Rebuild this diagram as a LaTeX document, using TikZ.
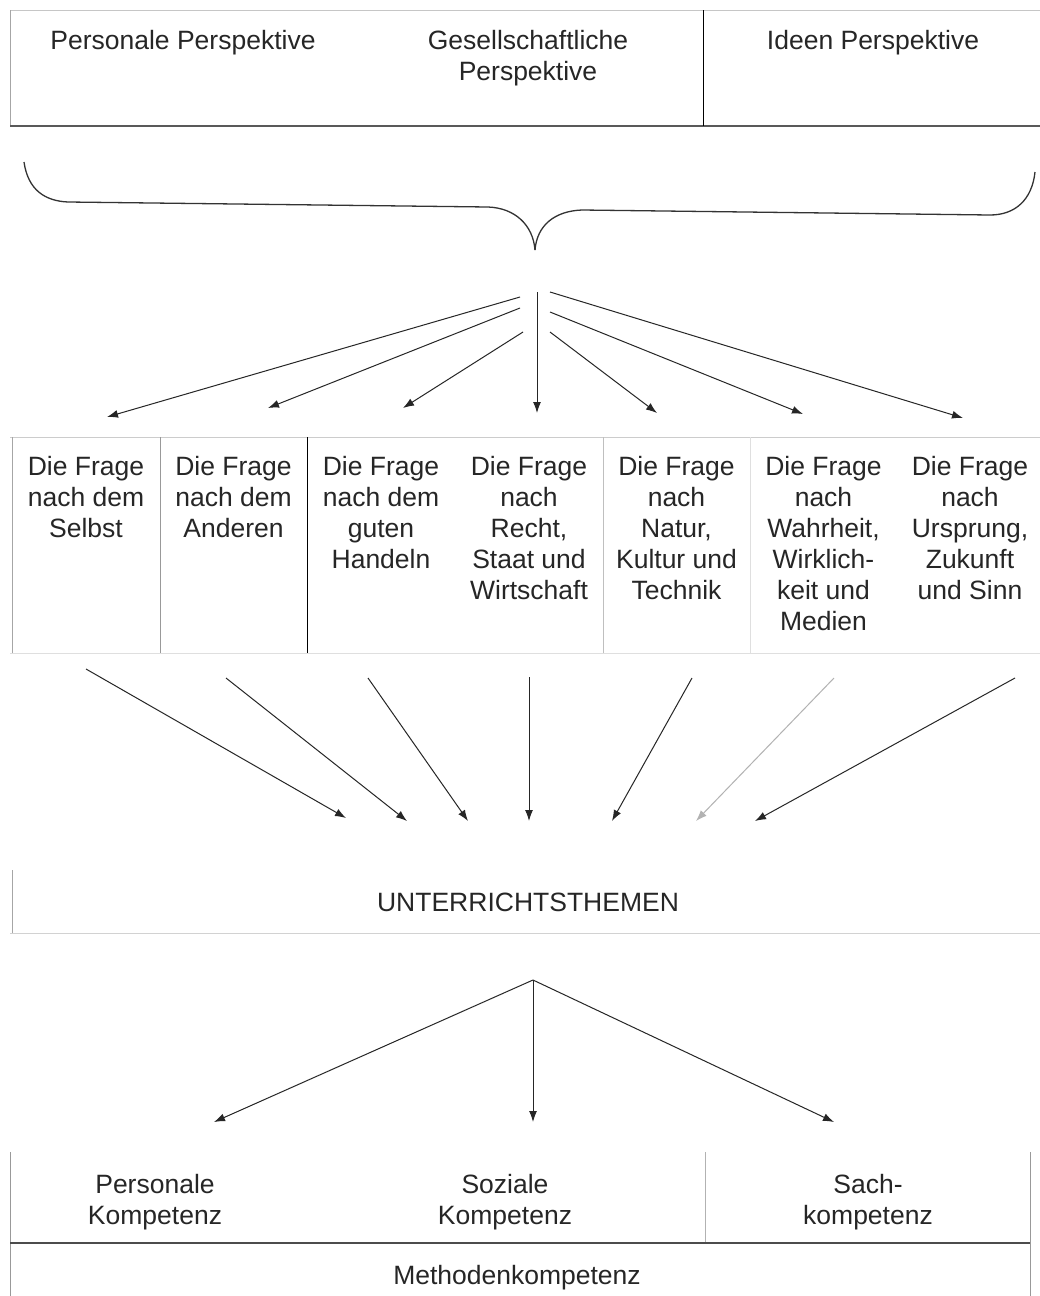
\documentclass[tikz,border=0pt]{standalone}
\usepackage{fontspec}
\setmainfont{Liberation Sans}
\usetikzlibrary{arrows.meta}
\begin{document}
\begin{tikzpicture}[x=1pt,y=-1pt,
  txt/.style={font=\fontsize{26.5}{31}\selectfont, align=center, inner sep=0pt, anchor=north, text=black!85},
  arr/.style={line width=1pt, draw=black!85, -{Latex[length=11pt,width=8pt]}},
  frame/.style={line width=1pt}]
\useasboundingbox[fill=white] (0,0) rectangle (1040,1296);

% ---------- top box ----------
\draw[frame, gray!45] (10,10) -- (1040,10);
\draw[frame, gray!70] (10,10) -- (10,126);
\draw[line width=2pt, black!65] (10,126) -- (1040,126);
\draw[frame, black] (703,10) -- (703,126);
\node[txt] (pp) at (183,27.3) {\strut Personale Perspektive};
\node[txt] (gp) at (528,27.3) {\strut Gesellschaftliche\\Perspektive};
\node[txt] (ip) at (873,27.3) {\strut Ideen Perspektive};

% ---------- brace ----------
\draw[line width=1.3pt, black!80] (24,162) .. controls (28,190) and (45,201) .. (68,202) -- (488,207) .. controls (515,208) and (533,225) .. (535,250);
\draw[line width=1.3pt, black!80] (535,250) .. controls (537,225) and (555,211) .. (582,210) -- (990,215) .. controls (1015,215) and (1032,200) .. (1035,172);

% ---------- arrows to questions ----------
\coordinate (s1) at (520,297);
\coordinate (s2) at (520,308);
\coordinate (s3) at (523,332);
\coordinate (s4) at (537,292);
\coordinate (s5) at (550,332);
\coordinate (s6) at (550,312);
\coordinate (s7) at (550,292);
\coordinate (t1) at (107,417);
\coordinate (t2) at (268,408);
\coordinate (t3) at (403,408);
\coordinate (t4) at (537,413);
\coordinate (t5) at (657,413);
\coordinate (t6) at (803,414);
\coordinate (t7) at (963,418);
\foreach \i in {1,...,7} \draw[arr] (s\i) -- (t\i);

% ---------- question columns ----------
\draw[frame, gray!40] (10,437) -- (1040,437);
\draw[frame, gray!25] (10,653) -- (1040,653);
\draw[frame, gray!70] (12,437) -- (12,653);
\draw[frame, gray!80] (160,437) -- (160,653);
\draw[frame, black] (307,437) -- (307,653);
\draw[frame, gray!50] (603,437) -- (603,653);
\draw[frame, gray!25] (750,437) -- (750,653);

\node[txt] (q1) at (86,453.3) {\strut Die Frage\\nach dem\\Selbst};
\node[txt] (q2) at (233.5,453.3) {\strut Die Frage\\nach dem\\Anderen};
\node[txt] (q3) at (381,453.3) {\strut Die Frage\\nach dem\\guten\\Handeln};
\node[txt] (q4) at (529,453.3) {\strut Die Frage\\nach\\Recht,\\Staat und\\Wirtschaft};
\node[txt] (q5) at (676.5,453.3) {\strut Die Frage\\nach\\Natur,\\Kultur und\\Technik};
\node[txt] (q6) at (823.5,453.3) {\strut Die Frage\\nach\\Wahrheit,\\Wirklich-\\keit und\\Medien};
\node[txt] (q7) at (970,453.3) {\strut Die Frage\\nach\\Ursprung,\\Zukunft\\und Sinn};

% ---------- arrows to topics ----------
\coordinate (u1) at (86,669);
\coordinate (u2) at (226,678);
\coordinate (u3) at (368,678);
\coordinate (u4) at (529,677);
\coordinate (u5) at (692,678);
\coordinate (u6) at (834,678);
\coordinate (u7) at (1015,678);
\coordinate (v1) at (346,818);
\coordinate (v2) at (407,821);
\coordinate (v3) at (468,821);
\coordinate (v4) at (529,821);
\coordinate (v5) at (612,821);
\coordinate (v6) at (696,821);
\coordinate (v7) at (755,821);
\foreach \i in {1,2,3,4,5,7} \draw[arr] (u\i) -- (v\i);
\draw[arr, draw=gray!60] (u6) -- (v6);

% ---------- topics ----------
\draw[frame, gray!70] (12,870) -- (12,933);
\draw[frame, gray!35] (10,933) -- (1040,933);
\node[txt] (ut) at (528,889.3) {\strut UNTERRICHTSTHEMEN};

% ---------- arrows to competences ----------
\coordinate (c0) at (533,980);
\coordinate (c1) at (214,1122);
\coordinate (c2) at (533,1122);
\coordinate (c3) at (834,1122);
\foreach \i in {1,2,3} \draw[arr] (c0) -- (c\i);

% ---------- competences ----------
\draw[frame, gray!80] (10,1152) -- (10,1296);
\draw[frame, gray!80] (1030,1152) -- (1030,1296);
\draw[frame, gray!60] (705,1152) -- (705,1243);
\draw[line width=2pt, black!70] (10,1243) -- (1030,1243);
\node[txt] (pk) at (155,1171.3) {\strut Personale\\Kompetenz};
\node[txt] (sk) at (505,1171.3) {\strut Soziale\\Kompetenz};
\node[txt] (sa) at (868,1171.3) {\strut Sach-\\kompetenz};
\node[txt] (mk) at (517,1262.3) {\strut Methodenkompetenz};
\end{tikzpicture}
\end{document}
